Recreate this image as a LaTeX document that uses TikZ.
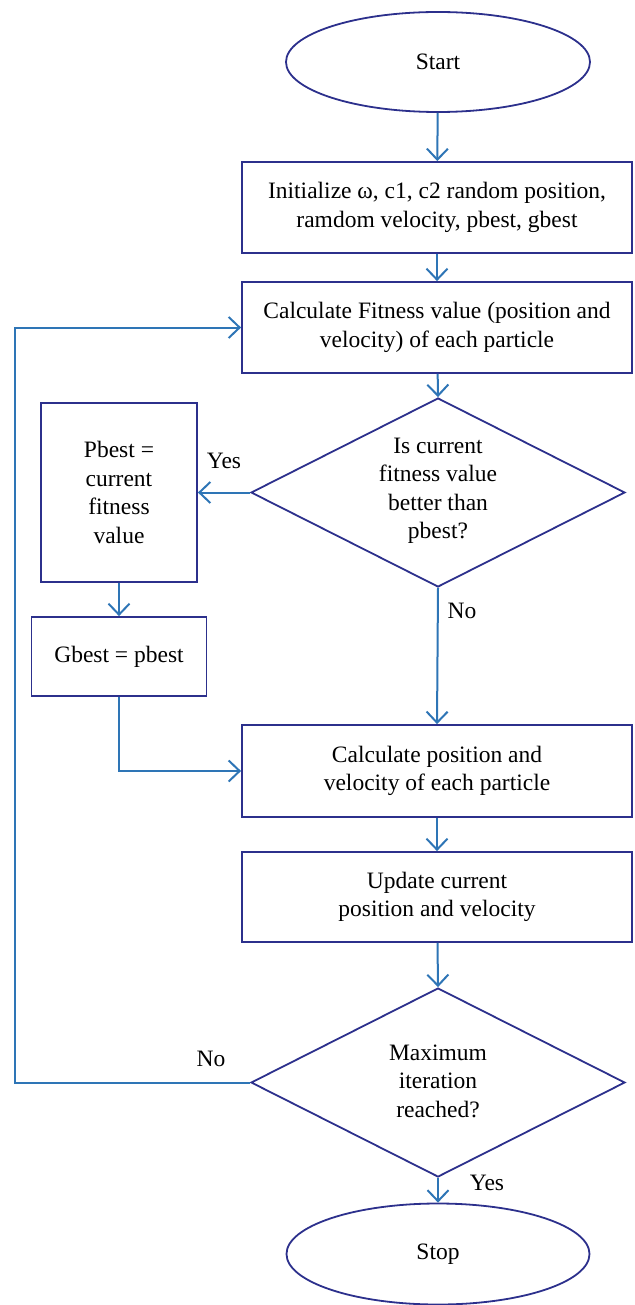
\documentclass[tikz,border=0pt]{standalone}
\usepackage{fontspec}
\setmainfont{Liberation Serif}
\usetikzlibrary{shapes.geometric,arrows.meta}
\definecolor{boxblue}{RGB}{44,48,140}
\definecolor{arrblue}{RGB}{46,117,182}
\tikzset{
  every node/.style={font=\fontsize{23.5}{28.5}\selectfont, inner sep=0pt, align=center},
  procbox/.style={draw=boxblue, line width=1.8pt, rectangle},
  termin/.style={draw=boxblue, line width=1.8pt, ellipse},
  decis/.style={draw=boxblue, line width=1.8pt, diamond},
  arr/.style={draw=arrblue, line width=2pt, -{Straight Barb[length=11pt,width=21pt,line width=2pt]}},
  lbl/.style={}
}
\begin{document}
\begin{tikzpicture}[x=1pt,y=-1pt]
\useasboundingbox (0,0) rectangle (634,1305);
\node[termin, minimum width=304pt, minimum height=100pt] (start) at (438,62) {Start};
\node[procbox, minimum width=390pt, minimum height=91pt] (init) at (437,207.5) {Initialize \symbol{"03C9}, c1, c2 random position,\\ ramdom velocity, pbest, gbest};
\node[procbox, minimum width=390pt, minimum height=91pt] (calc) at (437,327.5) {Calculate Fitness value (position and\\ velocity) of each particle};
\node[decis, minimum width=374pt, minimum height=189pt] (d1) at (438,492.5) {};
\node (d1t) at (438,491) {Is current\\ fitness value\\ better than\\ pbest?};
\node[procbox, minimum width=156pt, minimum height=179pt] (pbest) at (119,492.5) {Pbest =\\ current\\ fitness\\ value};
\node[procbox, minimum width=175pt, minimum height=79pt] (gbest) at (119,656.5) {\raisebox{3pt}{Gbest = pbest}};
\node[procbox, minimum width=390pt, minimum height=92pt] (cpos) at (437,771) {Calculate position and\\ velocity of each particle};
\node[procbox, minimum width=390pt, minimum height=90pt] (upd) at (437,897) {Update current\\ position and velocity};
\node[decis, minimum width=374pt, minimum height=189pt] (d2) at (438,1082.5) {};
\node (d2t) at (438,1081) {Maximum\\ iteration\\ reached?};
\node[termin, minimum width=303pt, minimum height=101pt] (stop) at (438,1254) {Stop};
\node[lbl] (yes1) at (224,461) {Yes};
\node[lbl] (no1) at (462,611) {No};
\node[lbl] (no2) at (211,1059) {No};
\node[lbl] (yes2) at (487,1183) {Yes};
\coordinate (fb) at (15,1082.5);
\draw[arr] (start) -- (init);
\draw[arr] (init) -- (calc);
\draw[arr] (calc) -- (d1.north);
\draw[arr] (d1.west) -- (pbest.east |- d1.west);
\draw[arr] (pbest) -- (gbest);
\draw[arr] (gbest.south) |- (cpos.west);
\draw[arr] (d1.south) -- (cpos.north);
\draw[arr] (cpos) -- (upd);
\draw[arr] (upd) -- (d2.north);
\draw[arr] (d2.west) -- (fb) |- (calc.west);
\draw[arr] (d2.south) -- (stop.north);
\end{tikzpicture}
\end{document}
